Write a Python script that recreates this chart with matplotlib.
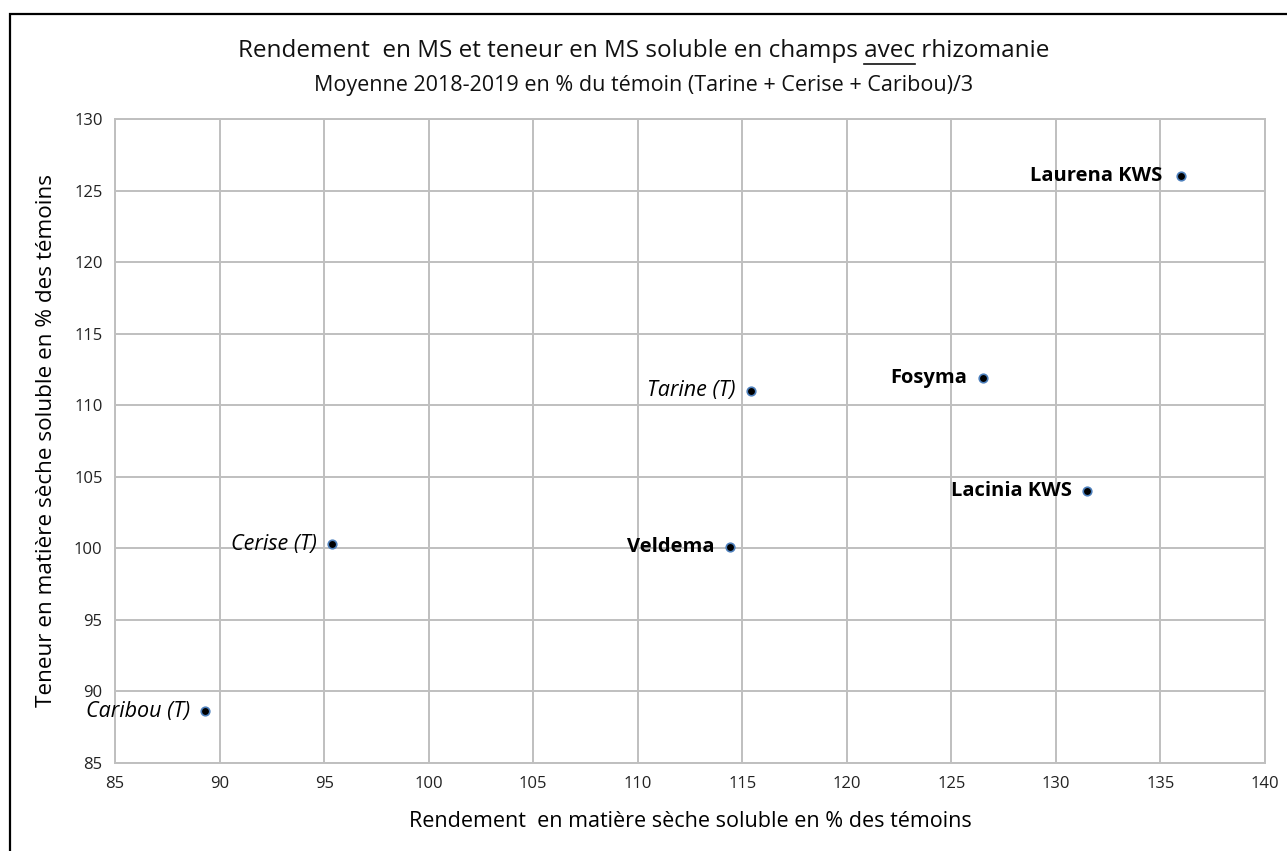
import matplotlib.pyplot as plt
from matplotlib.patches import Rectangle
from matplotlib.lines import Line2D

plt.rcParams['font.family'] = ['Open Sans', 'DejaVu Sans']

# data
varieties = ['Laurena KWS', 'Fosyma', 'Lacinia KWS', 'Tarine (T)', 'Veldema', 'Cerise (T)', 'Caribou (T)']
rendement = [136.0, 126.5, 131.5, 115.4, 114.4, 95.4, 89.3]
teneur = [126.0, 111.9, 104.0, 111.0, 100.1, 100.3, 88.6]
is_witness = [False, False, False, True, False, True, True]

x_ticks = list(range(85, 141, 5))
y_ticks = list(range(85, 131, 5))

fig = plt.figure(figsize=(12.87, 8.51), dpi=100)
ax = fig.add_axes([0.0894, 0.1034, 0.8935, 0.7568])

grid_color = '#BFBFBF'
ax.set_xlim(85, 140)
ax.set_ylim(85, 130)
ax.set_xticks(x_ticks)
ax.set_yticks(y_ticks)
ax.grid(True, color=grid_color, lw=1.4)
ax.set_axisbelow(True)
for s in ax.spines.values():
    s.set_color(grid_color)
    s.set_linewidth(1.4)
ax.tick_params(length=0, labelsize=12, colors='#222222', pad=9)

ax.scatter(rendement, teneur, s=38, c='black', edgecolors='#4F81BD', linewidths=1.2, zorder=3)

for name, x, y, w in zip(varieties, rendement, teneur, is_witness):
    off = -14 if name == 'Laurena KWS' else -11
    ax.annotate(name, (x, y), xytext=(off, 0), textcoords='offset points',
                ha='right', va='center', fontsize=15.5 if w else 14.5,
                fontstyle='italic' if w else 'normal',
                fontweight='normal' if w else 'bold', color='black')

ax.set_xlabel('Rendement  en matière sèche soluble en % des témoins', fontsize=15.5, labelpad=14)
ax.set_ylabel('Teneur en matière sèche soluble en % des témoins', fontsize=16.2, labelpad=12)

# frame around the whole chart (cut by the picture edge on right and bottom)
fig.patches.append(Rectangle((10 / 1287, -0.1), 1.2, 0.1 + (1 - 14 / 851), transform=fig.transFigure,
                             fill=False, ec='black', lw=1.6))

# title with underlined "avec"
title_y = 1 - 51 / 851
title_size = 17.5
prefix = 'Rendement  en MS et teneur en MS soluble en champs '
full = prefix + 'avec rhizomanie'
t = fig.text(0.5, title_y, full, ha='center', va='center', fontsize=title_size, color='#111111')
fig.text(0.5, 1 - 86 / 851, 'Moyenne 2018-2019 en % du témoin (Tarine + Cerise + Caribou)/3',
         ha='center', va='center', fontsize=15.5, color='#111111')

fig.canvas.draw()
r = fig.canvas.get_renderer()
bb = t.get_window_extent(r)
tmp1 = fig.text(0, 0, prefix + 'avec', fontsize=title_size)
tmp2 = fig.text(0, 0, 'avec', fontsize=title_size)
w1 = tmp1.get_window_extent(r).width
w2 = tmp2.get_window_extent(r).width
tmp1.remove()
tmp2.remove()
x_end = bb.x0 + w1
x_start = x_end - w2
y_line = bb.y0 - 1
fig.add_artist(Line2D([x_start / fig.bbox.width, x_end / fig.bbox.width],
                      [y_line / fig.bbox.height] * 2, transform=fig.transFigure,
                      color='#111111', lw=1.2))

fig.savefig('out.png', dpi=100)
